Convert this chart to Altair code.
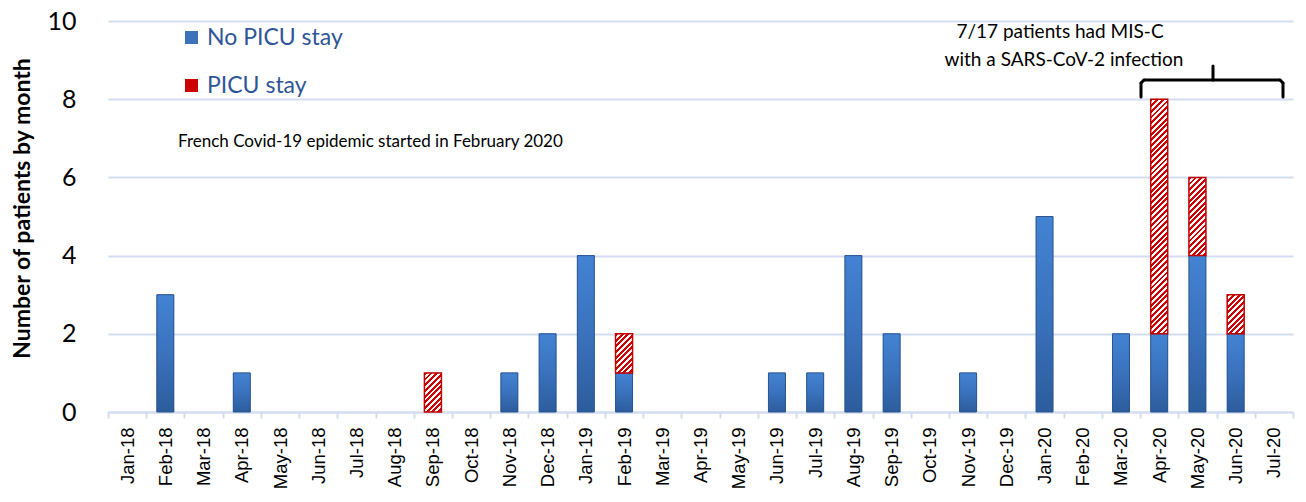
import math
import altair as alt
import pandas as pd

months = ["Jan-18", "Feb-18", "Mar-18", "Apr-18", "May-18", "Jun-18", "Jul-18", "Aug-18",
          "Sep-18", "Oct-18", "Nov-18", "Dec-18", "Jan-19", "Feb-19", "Mar-19", "Apr-19",
          "May-19", "Jun-19", "Jul-19", "Aug-19", "Sep-19", "Oct-19", "Nov-19", "Dec-19",
          "Jan-20", "Feb-20", "Mar-20", "Apr-20", "May-20", "Jun-20", "Jul-20"]
no_picu = [0, 3, 0, 1, 0, 0, 0, 0, 0, 0, 1, 2, 4, 1, 0, 0, 0, 1, 1, 4, 2, 0, 1, 0, 5, 0, 2, 2, 4, 2, 0]
picu = [0, 0, 0, 0, 0, 0, 0, 0, 1, 0, 0, 0, 0, 1, 0, 0, 0, 0, 0, 0, 0, 0, 0, 0, 0, 0, 0, 6, 2, 1, 0]
series_names = ["No PICU stay", "PICU stay"]

rows = []
for i, m in enumerate(months):
    a, b = no_picu[i], picu[i]
    rows.append(dict(month=m, series=series_names[0], start=0, end=a, value=a))
    rows.append(dict(month=m, series=series_names[1], start=a, end=a + b, value=b))
df = pd.DataFrame(rows)
df = df[df["value"] > 0].reset_index(drop=True)

W, H = 1185, 391
BAR = 17
UNIT = H / 10.0
BLUE = "#3b72ba"
RED = "#cc0000"
LIGHT = "#d3ddef"


def hatch_gradient(h, w=BAR, period=5.7, frac=0.52):
    s = (w + h) / (w * w + h * h)
    span = w + h
    n = int(math.ceil(span / period))
    stops = []
    for k in range(n):
        t0 = min(1.0, k * period / span)
        t1 = min(1.0, (k * period + frac * period) / span)
        t2 = min(1.0, (k + 1) * period / span)
        stops += [alt.GradientStop(offset=t0, color=RED), alt.GradientStop(offset=t1, color=RED),
                  alt.GradientStop(offset=t1, color="white"), alt.GradientStop(offset=t2, color="white")]
    return alt.LinearGradient(gradient="linear", stops=stops, x1=0, y1=0, x2=w * s, y2=h * s)


blue_grad = alt.LinearGradient(
    gradient="linear", x1=0, y1=0, x2=0, y2=1,
    stops=[alt.GradientStop(offset=0, color="#4383d3"),
           alt.GradientStop(offset=0.5, color="#3a72bd"),
           alt.GradientStop(offset=1, color="#2c5c9c")])

x_enc = alt.X("month:N", sort=months,
              scale=alt.Scale(domain=months, paddingInner=0, paddingOuter=0),
              axis=alt.Axis(title=None, labelAngle=-90, labelFont="Liberation Sans", labelFontSize=18.5,
                            labelColor="black", labelPadding=9, tickBand="extent", tickSize=6,
                            tickColor=LIGHT, tickWidth=2, domainColor=LIGHT, domainWidth=2, grid=False))
y_enc = alt.Y("start:Q", scale=alt.Scale(domain=[0, 10], nice=False),
              axis=alt.Axis(values=[0, 2, 4, 6, 8, 10], grid=True, gridColor=LIGHT, gridWidth=2,
                            domain=False, ticks=False, labelFont="Lato", labelFontSize=25,
                            labelColor="black", labelPadding=32,
                            title="Number of patients by month", titleFont="Lato", titleFontSize=23,
                            titleFontWeight="bold", titleColor="black", titleAngle=-90,
                            titleX=-86, titleY=187, titleAlign="center", titleBaseline="middle"))
y2_enc = alt.Y2("end:Q")

base = alt.Chart(df).mark_bar(size=BAR).encode(
    x=x_enc, y=y_enc, y2=y2_enc,
    color=alt.Color("series:N", scale=alt.Scale(domain=series_names, range=[BLUE, RED]),
                    legend=alt.Legend(title=None, orient="none", legendX=72, legendY=5,
                                      symbolType="square", symbolSize=170, symbolStrokeWidth=0,
                                      labelFont="Lato", labelFontSize=23, labelColor="#2f5597",
                                      rowPadding=24, labelOffset=4)))

blue_ov = alt.Chart(df).transform_filter(alt.datum.series == series_names[0]).mark_bar(
    size=BAR, fill=blue_grad, stroke="#2a5490", strokeWidth=1).encode(x=x_enc, y=y_enc, y2=y2_enc)

hatch_layers = []
for v in sorted(set(p for p in picu if p > 0)):
    hatch_layers.append(
        alt.Chart(df).transform_filter(
            (alt.datum.series == series_names[1]) & (alt.datum.value == v)
        ).mark_bar(size=BAR, fill=hatch_gradient(v * UNIT), stroke="#c00000", strokeWidth=1.5)
        .encode(x=x_enc, y=y_enc, y2=y2_enc))

one = alt.Data(values=[{}])
note1 = alt.Chart(one).mark_text(text="French Covid-19 epidemic started in February 2020", font="Lato",
                                 fontSize=17, align="left", baseline="middle", color="black").encode(
    x=alt.value(70), y=alt.value(121))
note2 = alt.Chart(one).mark_text(text="7/17 patients had MIS-C", font="Lato", fontSize=19,
                                 align="center", baseline="middle", color="black").encode(
    x=alt.value(952), y=alt.value(11))
note3 = alt.Chart(one).mark_text(text="with a SARS-CoV-2 infection", font="Lato", fontSize=19,
                                 align="center", baseline="middle", color="black").encode(
    x=alt.value(956), y=alt.value(39))

rule_style = dict(color="black", strokeWidth=3, strokeCap="round")
brace_h = alt.Chart(one).mark_rule(**rule_style).encode(x=alt.value(1036), x2=alt.value(1172), y=alt.value(59))
brace_l = alt.Chart(one).mark_rule(**rule_style).encode(x=alt.value(1033), y=alt.value(62), y2=alt.value(76))
brace_r = alt.Chart(one).mark_rule(**rule_style).encode(x=alt.value(1175), y=alt.value(62), y2=alt.value(76))
brace_l2 = alt.Chart(one).mark_rule(**rule_style).encode(x=alt.value(1033), x2=alt.value(1036), y=alt.value(62), y2=alt.value(59))
brace_r2 = alt.Chart(one).mark_rule(**rule_style).encode(x=alt.value(1175), x2=alt.value(1172), y=alt.value(62), y2=alt.value(59))
brace_m = alt.Chart(one).mark_rule(**rule_style).encode(x=alt.value(1105), y=alt.value(45), y2=alt.value(59))

chart = alt.layer(base, blue_ov, *hatch_layers, note1, note2, note3,
                  brace_h, brace_l, brace_r, brace_l2, brace_r2, brace_m).properties(
    width=W, height=H, autosize="none",
    padding={"left": 100, "top": 13, "right": 5, "bottom": 82},
).configure_view(stroke=None)

chart.save("out.html", embed_options={"renderer": "svg", "actions": False})
